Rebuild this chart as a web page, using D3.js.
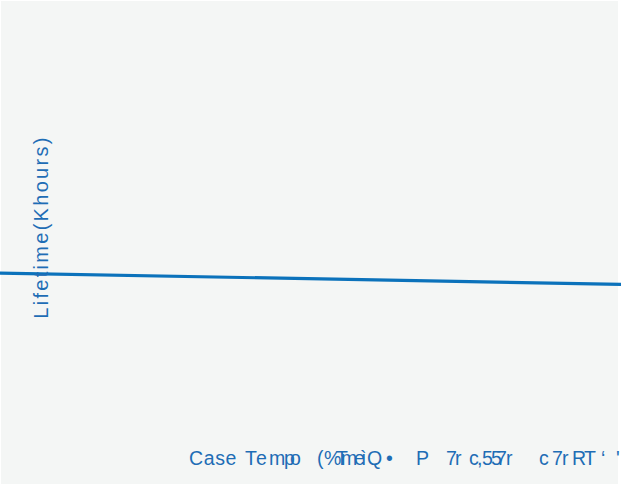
<!DOCTYPE html>
<html>
<head>
<meta charset="utf-8">
<script src="https://cdn.jsdelivr.net/npm/d3@7"></script>
<style>
  html, body { margin: 0; padding: 0; background: #ffffff; }
  svg { display: block; }
</style>
</head>
<body>
<script>
// ---- data ----
const caseTemp = [0, 100];           // x extent of the visible segment
const lifetime = [43.8, 41.5];       // Khours
const yLabel = "Lifetime(Khours)";
const xLabelParts = ["Case", "T", "e", "m", "p", "o", "(", "%", "T", "m", "e", "ì", "Q", "•", "P", "7", "r", "c", ",", "5", "5", "7", "r", "c", "7", "r", "R", "T", "‘", "'"];
const xLabelOffsets = [0, 56, 67, 80, 95, 101, 128, 135, 147, 152, 165, 172, 178, 197, 227, 257, 266, 280, 288, 293, 302, 307, 317, 350, 363, 373, 383, 395, 412, 427];

const W = 621, H = 486;
const svg = d3.select("body").append("svg").attr("width", W).attr("height", H);

svg.append("rect").attr("x", 1).attr("y", 1).attr("width", W - 4).attr("height", H - 3)
  .attr("fill", "#f4f6f5");

const x = d3.scaleLinear().domain([0, 100]).range([0, W]);
const y = d3.scaleLinear().domain([0, 100]).range([H, 0]);

const pts = caseTemp.map((t, i) => [t, lifetime[i]]);
svg.append("path").datum(pts)
  .attr("fill", "none").attr("stroke", "#0b72bb").attr("stroke-width", 3.2)
  .attr("d", d3.line().x(d => x(d[0])).y(d => y(d[1])));

svg.append("text")
  .attr("transform", "translate(48,227) rotate(-90)")
  .attr("text-anchor", "middle")
  .attr("font-family", "Liberation Sans, Arial, sans-serif")
  .attr("font-size", 20).attr("letter-spacing", 2.3)
  .attr("fill", "#1e6db5").text(yLabel);

const xl = svg.append("text")
  .attr("y", 465)
  .attr("font-family", "Liberation Sans, Arial, sans-serif")
  .attr("font-size", 19.5).attr("letter-spacing", 0.6)
  .attr("fill", "#1e6db5");
xLabelParts.forEach((p, i) => {
  xl.append("tspan").attr("x", 189 + xLabelOffsets[i]).text(p);
});
</script>
</body>
</html>
